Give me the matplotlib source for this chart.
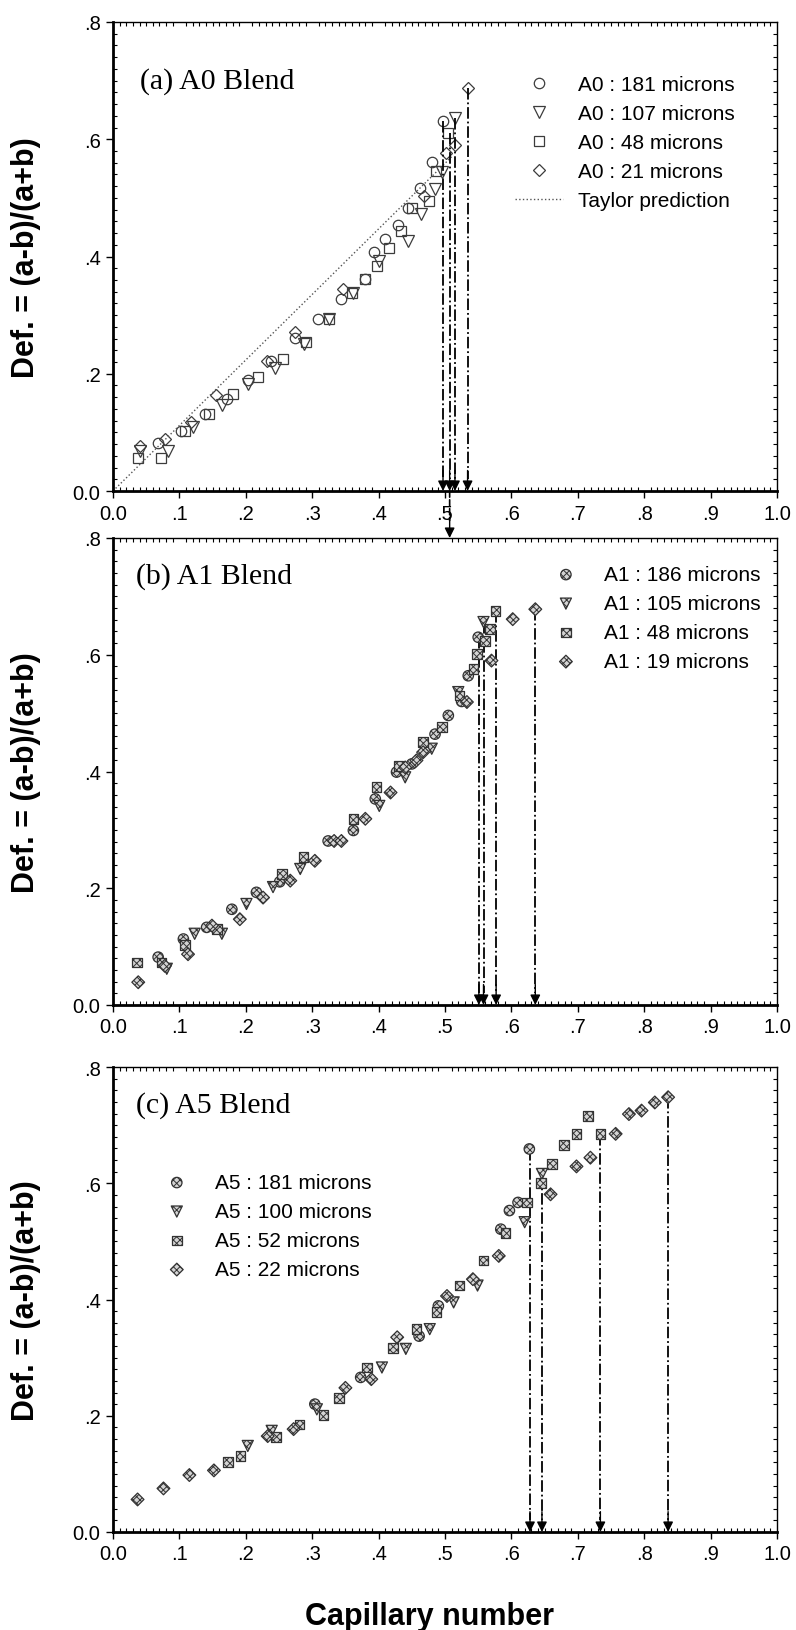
import numpy as np
import matplotlib
matplotlib.use('Agg')
import matplotlib.pyplot as plt
from matplotlib.ticker import MultipleLocator, FuncFormatter
from matplotlib.patches import ConnectionPatch

plt.rcParams['font.family'] = ['Liberation Sans', 'DejaVu Sans']
plt.rcParams['hatch.linewidth'] = 0.7

# ---- panel (a) A0 blend ----
a181_x = [0.068, 0.103, 0.139, 0.172, 0.204, 0.238, 0.274, 0.309, 0.343, 0.379, 0.393, 0.410, 0.429, 0.445, 0.463, 0.480, 0.497]
a181_y = [0.082, 0.103, 0.131, 0.157, 0.190, 0.222, 0.261, 0.293, 0.327, 0.361, 0.407, 0.429, 0.453, 0.483, 0.517, 0.562, 0.631]
a107_x = [0.041, 0.083, 0.120, 0.164, 0.204, 0.244, 0.287, 0.326, 0.362, 0.401, 0.444, 0.464, 0.485, 0.495, 0.515]
a107_y = [0.069, 0.069, 0.110, 0.146, 0.183, 0.209, 0.251, 0.293, 0.338, 0.392, 0.426, 0.472, 0.515, 0.544, 0.636]
a48_x = [0.037, 0.073, 0.109, 0.144, 0.181, 0.219, 0.256, 0.290, 0.326, 0.360, 0.379, 0.397, 0.416, 0.433, 0.450, 0.476, 0.487, 0.505]
a48_y = [0.056, 0.057, 0.103, 0.131, 0.166, 0.194, 0.225, 0.255, 0.293, 0.338, 0.361, 0.384, 0.415, 0.443, 0.483, 0.495, 0.545, 0.611]
a21_x = [0.040, 0.078, 0.118, 0.155, 0.232, 0.274, 0.347, 0.469, 0.502, 0.515, 0.534]
a21_y = [0.077, 0.089, 0.117, 0.163, 0.222, 0.271, 0.345, 0.503, 0.577, 0.591, 0.688]
taylor_x = [0.0, 0.51]
taylor_y = [0.0, 0.57]
a_drop_x = [0.497, 0.507, 0.515, 0.534]
a_drop_y = [0.631, 0.611, 0.636, 0.688]

# ---- panel (b) A1 blend ----
b186_x = [0.068, 0.106, 0.141, 0.179, 0.216, 0.251, 0.324, 0.362, 0.395, 0.427, 0.450, 0.485, 0.505, 0.525, 0.535, 0.550]
b186_y = [0.082, 0.113, 0.133, 0.164, 0.193, 0.211, 0.281, 0.299, 0.353, 0.399, 0.413, 0.464, 0.496, 0.520, 0.564, 0.630]
b105_x = [0.081, 0.123, 0.164, 0.201, 0.241, 0.282, 0.401, 0.440, 0.480, 0.520, 0.558]
b105_y = [0.062, 0.122, 0.122, 0.173, 0.202, 0.233, 0.341, 0.390, 0.439, 0.536, 0.656]
b48_x = [0.036, 0.073, 0.108, 0.157, 0.254, 0.287, 0.362, 0.397, 0.430, 0.467, 0.495, 0.522, 0.543, 0.548, 0.560, 0.568, 0.576]
b48_y = [0.073, 0.073, 0.103, 0.130, 0.224, 0.253, 0.319, 0.373, 0.410, 0.450, 0.476, 0.530, 0.576, 0.601, 0.624, 0.644, 0.675]
b19_x = [0.038, 0.078, 0.113, 0.149, 0.191, 0.226, 0.267, 0.304, 0.333, 0.344, 0.380, 0.418, 0.440, 0.457, 0.467, 0.533, 0.570, 0.602, 0.636]
b19_y = [0.039, 0.067, 0.087, 0.136, 0.147, 0.184, 0.213, 0.247, 0.281, 0.281, 0.319, 0.364, 0.407, 0.419, 0.433, 0.519, 0.590, 0.661, 0.678]
b_drop_x = [0.551, 0.558, 0.577, 0.636]
b_drop_y = [0.630, 0.656, 0.675, 0.678]

# ---- panel (c) A5 blend ----
c181_x = [0.304, 0.373, 0.461, 0.490, 0.584, 0.597, 0.610, 0.627]
c181_y = [0.220, 0.266, 0.337, 0.389, 0.521, 0.553, 0.567, 0.659]
c100_x = [0.203, 0.239, 0.307, 0.405, 0.441, 0.477, 0.513, 0.549, 0.620, 0.646]
c100_y = [0.148, 0.174, 0.211, 0.283, 0.315, 0.349, 0.395, 0.424, 0.533, 0.616]
c52_x = [0.173, 0.192, 0.246, 0.281, 0.317, 0.340, 0.382, 0.422, 0.457, 0.487, 0.522, 0.558, 0.591, 0.623, 0.645, 0.661, 0.679, 0.698, 0.715, 0.734]
c52_y = [0.121, 0.131, 0.164, 0.185, 0.201, 0.231, 0.283, 0.317, 0.349, 0.378, 0.424, 0.467, 0.515, 0.567, 0.601, 0.633, 0.666, 0.685, 0.716, 0.685]
c22_x = [0.037, 0.076, 0.115, 0.152, 0.233, 0.272, 0.350, 0.389, 0.428, 0.503, 0.542, 0.581, 0.659, 0.698, 0.719, 0.757, 0.777, 0.796, 0.816, 0.836]
c22_y = [0.056, 0.075, 0.098, 0.106, 0.165, 0.177, 0.248, 0.263, 0.335, 0.406, 0.435, 0.475, 0.581, 0.629, 0.644, 0.685, 0.719, 0.725, 0.739, 0.748]
c_drop_x = [0.628, 0.646, 0.734, 0.836]
c_drop_y = [0.659, 0.616, 0.685, 0.748]

xticks = np.round(np.arange(0, 1.01, 0.1), 1)
yticks = [0.0, 0.2, 0.4, 0.6, 0.8]


def fmt(v, pos):
    if abs(v) < 1e-9:
        return '0.0'
    if abs(v - 1) < 1e-9:
        return '1.0'
    return ('%.1f' % v)[1:]


def style_axes(ax):
    ax.set_xlim(0, 1.0)
    ax.set_ylim(0, 0.8)
    ax.set_xticks(xticks)
    ax.set_yticks(yticks)
    ax.xaxis.set_minor_locator(MultipleLocator(0.01))
    ax.yaxis.set_minor_locator(MultipleLocator(0.02))
    ax.xaxis.set_major_formatter(FuncFormatter(fmt))
    ax.yaxis.set_major_formatter(FuncFormatter(fmt))
    ax.tick_params(which='major', direction='out', length=5, width=1, labelsize=14.5, pad=4)
    ax.tick_params(which='minor', direction='in', length=3, width=0.8,
                   top=True, right=True, bottom=True, left=True)
    for s in ['left', 'bottom']:
        ax.spines[s].set_linewidth(2)
    for s in ['top', 'right']:
        ax.spines[s].set_linewidth(1)
    ax.set_ylabel('Def. = (a-b)/(a+b)', fontsize=22, fontweight='bold')
    ax.yaxis.set_label_coords(-0.108, 0.5)


def drops(ax, xs, ys):
    for x, y in zip(xs, ys):
        ax.plot([x, x], [y, 0.02], ls='-.', color='k', lw=1.3)
        ax.annotate('', xy=(x, 0.0), xytext=(x, 0.035),
                    arrowprops=dict(arrowstyle='-|>', color='k', lw=1,
                                    mutation_scale=15, shrinkA=0, shrinkB=0))


LEG = dict(loc='upper left', frameon=False, fontsize=15, handlelength=2.3,
           handletextpad=0.7, labelspacing=0.48, borderpad=0, borderaxespad=0)

fig = plt.figure(figsize=(7.96, 16.31), dpi=100)
L, W = 113 / 796, 664 / 796
axa = fig.add_axes([L, 1 - 492 / 1631, W, 469 / 1631])
axb = fig.add_axes([L, 1 - 1006 / 1631, W, 467 / 1631])
axc = fig.add_axes([L, 1 - 1533 / 1631, W, 465 / 1631])

# panel a: open markers
ec = '#3c3c3c'
ha = []
ha.append(axa.plot(a181_x, a181_y, 'o', ms=7.5, mfc='none', mec=ec, mew=0.9, label='A0 : 181 microns')[0])
ha.append(axa.plot(a107_x, a107_y, 'v', ms=8, mfc='none', mec=ec, mew=0.9, label='A0 : 107 microns')[0])
ha.append(axa.plot(a48_x, a48_y, 's', ms=7, mfc='none', mec=ec, mew=0.9, label='A0 : 48 microns')[0])
ha.append(axa.plot(a21_x, a21_y, 'D', ms=6.5, mfc='none', mec=ec, mew=0.9, label='A0 : 21 microns')[0])
ha.append(axa.plot(taylor_x, taylor_y, ':', color='#555555', lw=1, label='Taylor prediction')[0])
drops(axa, a_drop_x, a_drop_y)
axa.text(0.04, 0.70, '(a) A0 Blend', fontsize=21.5, family='Liberation Serif', va='center')
axa.legend(handles=ha, bbox_to_anchor=(0.606, 0.887), **LEG)


def hatched(ax, xs, ys, marker, size, label):
    return ax.scatter(xs, ys, s=size ** 2, marker=marker, facecolor='#d4d4d4',
                      edgecolor='#333333', linewidths=0.9, hatch='xxxxx', label=label, zorder=3)


def hatched_panel(ax, series, drops_x, drops_y, title, title_y, leg_anchor):
    hs = []
    for (xs, ys, m, sz, lab) in series:
        hs.append(hatched(ax, xs, ys, m, sz, lab))
    drops(ax, drops_x, drops_y)
    ax.text(0.034, title_y, title, fontsize=21.5, family='Liberation Serif', va='center')
    ax.legend(handles=hs, bbox_to_anchor=leg_anchor, scatterpoints=1, **LEG)


hatched_panel(axb, [(b186_x, b186_y, 'o', 7.5, 'A1 : 186 microns'),
                    (b105_x, b105_y, 'v', 8, 'A1 : 105 microns'),
                    (b48_x, b48_y, 's', 7, 'A1 : 48 microns'),
                    (b19_x, b19_y, 'D', 6.5, 'A1 : 19 microns')],
              b_drop_x, b_drop_y, '(b) A1 Blend', 0.735, (0.646, 0.942))

hatched_panel(axc, [(c181_x, c181_y, 'o', 7.5, 'A5 : 181 microns'),
                    (c100_x, c100_y, 'v', 8, 'A5 : 100 microns'),
                    (c52_x, c52_y, 's', 7, 'A5 : 52 microns'),
                    (c22_x, c22_y, 'D', 6.5, 'A5 : 22 microns')],
              c_drop_x, c_drop_y, '(c) A5 Blend', 0.736, (0.06, 0.772))

for ax in (axa, axb, axc):
    style_axes(ax)

axc.set_xlabel('Capillary number', fontsize=22, fontweight='bold')
axc.xaxis.set_label_coords(0.476, -0.148)

# dashed arrow linking panel (a) to panel (b)
con = ConnectionPatch(xyA=(0.507, 0.0), coordsA=axa.transData,
                      xyB=(0.507, 0.83), coordsB=axb.transData,
                      ls='--', color='k', lw=1.2)
fig.add_artist(con)
axb.annotate('', xy=(0.507, 0.8), xytext=(0.507, 0.835), annotation_clip=False,
             arrowprops=dict(arrowstyle='-|>', color='k', lw=1,
                             mutation_scale=15, shrinkA=0, shrinkB=0))

fig.savefig('out.png', dpi=100)
